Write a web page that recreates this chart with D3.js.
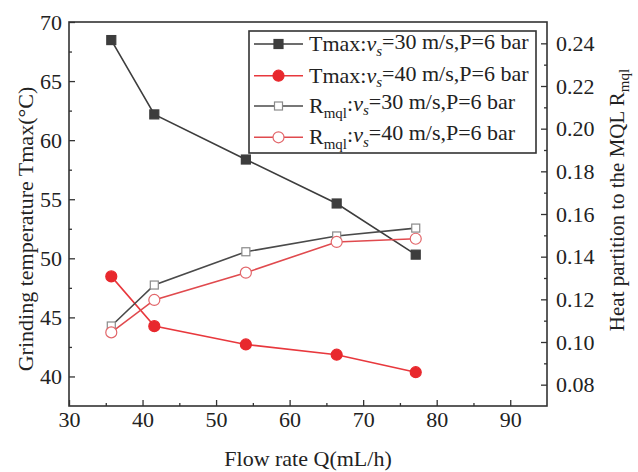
<!DOCTYPE html>
<html>
<head>
<meta charset="utf-8">
<script src="https://cdn.jsdelivr.net/npm/d3@7"></script>
<style>
  body { margin: 0; background: #fff; }
  svg { display: block; font-family: "Liberation Serif", "Times New Roman", serif; }
</style>
</head>
<body>
<div id="chart"></div>
<script>
// values
const flowRate = [35.75, 41.6, 54.05, 66.4, 77.15];
const tmax30 = [68.47, 62.18, 58.36, 54.64, 50.31];
const tmax40 = [48.47, 44.26, 42.71, 41.84, 40.36];
const rmql30 = [0.1075, 0.1267, 0.1423, 0.1497, 0.1534];
const rmql40 = [0.1045, 0.1197, 0.1325, 0.1469, 0.1484];

const xTicks = [30, 40, 50, 60, 70, 80, 90];
const leftTicks = [40, 45, 50, 55, 60, 65, 70];
const rightTicks = [0.08, 0.10, 0.12, 0.14, 0.16, 0.18, 0.20, 0.22, 0.24];

const W = 638, H = 472;
const margin = { top: 22, right: 91, bottom: 66, left: 69 };
const width = W - margin.left - margin.right;
const height = H - margin.top - margin.bottom;
const axisColor = '#333';
const fontSize = 22;

const svg = d3.select('#chart')
  .append('svg')
  .attr('width', W)
  .attr('height', H);

const g = svg.append('g')
  .attr('transform', `translate(${margin.left},${margin.top})`);

const x = d3.scaleLinear().domain([30, 95]).range([0, width]);
const yL = d3.scaleLinear().domain([37.5, 70]).range([height, 0]);
const yR = d3.scaleLinear().domain([0.07, 0.25]).range([height, 0]);

// minor ticks first, then major ticks with labels
function styleAxis(sel) {
  sel.select('.domain').remove();
  sel.selectAll('line').attr('stroke', axisColor).attr('stroke-width', 1.3);
  sel.selectAll('text')
    .attr('fill', '#222')
    .style('font-size', fontSize + 'px')
    .style('font-family', '"Liberation Serif", serif');
}

const xMinor = d3.range(35, 95, 10);
g.append('g').attr('transform', `translate(0,${height})`)
  .call(d3.axisBottom(x).tickValues(xMinor).tickSize(-3).tickFormat(''))
  .call(styleAxis);
g.append('g').attr('transform', `translate(0,${height})`)
  .call(d3.axisBottom(x).tickValues(xTicks).tickSize(-6).tickPadding(5).tickFormat(d3.format('d')))
  .call(styleAxis);

const leftMinor = d3.range(42.5, 70, 5);
g.append('g')
  .call(d3.axisLeft(yL).tickValues(leftMinor).tickSize(-3).tickFormat(''))
  .call(styleAxis);
g.append('g')
  .call(d3.axisLeft(yL).tickValues(leftTicks).tickSize(-6).tickPadding(7).tickFormat(d3.format('d')))
  .call(styleAxis);

const rightMinor = d3.range(0.09, 0.25, 0.02);
g.append('g').attr('transform', `translate(${width},0)`)
  .call(d3.axisRight(yR).tickValues(rightMinor).tickSize(-3).tickFormat(''))
  .call(styleAxis);
g.append('g').attr('transform', `translate(${width},0)`)
  .call(d3.axisRight(yR).tickValues(rightTicks).tickSize(-6).tickPadding(9).tickFormat(d3.format('.2f')))
  .call(styleAxis);

// frame
g.append('rect')
  .attr('width', width)
  .attr('height', height)
  .attr('fill', 'none')
  .attr('stroke', axisColor)
  .attr('stroke-width', 1.6);

const series = [
  { values: tmax30, y: yL, line: '#3d3d3d', shape: 'square', fill: '#3d3d3d', stroke: '#3d3d3d', size: 9 },
  { values: tmax40, y: yL, line: '#e8383d', shape: 'circle', fill: '#e8282d', stroke: '#e8282d', size: 5.5 },
  { values: rmql30, y: yR, line: '#4a4a4a', shape: 'square', fill: '#fff', stroke: '#8a8a8a', size: 8 },
  { values: rmql40, y: yR, line: '#e04a4e', shape: 'circle', fill: '#fff', stroke: '#e2666a', size: 5.5 }
];

function drawMarker(sel, s) {
  if (s.shape === 'square') {
    sel.append('rect')
      .attr('x', -s.size / 2).attr('y', -s.size / 2)
      .attr('width', s.size).attr('height', s.size)
      .attr('fill', s.fill).attr('stroke', s.stroke).attr('stroke-width', 1.2);
  } else {
    sel.append('circle')
      .attr('r', s.size)
      .attr('fill', s.fill).attr('stroke', s.stroke).attr('stroke-width', 1.2);
  }
}

series.forEach(s => {
  const pts = flowRate.map((q, i) => [q, s.values[i]]);
  g.append('path')
    .datum(pts)
    .attr('fill', 'none')
    .attr('stroke', s.line)
    .attr('stroke-width', 1.6)
    .attr('d', d3.line().x(d => x(d[0])).y(d => s.y(d[1])));
});

series.forEach(s => {
  flowRate.forEach((q, i) => {
    const m = g.append('g').attr('transform', `translate(${x(q)},${s.y(s.values[i])})`);
    drawMarker(m, s);
  });
});

// axis titles
svg.append('text')
  .attr('x', margin.left + width / 2)
  .attr('y', 466)
  .attr('text-anchor', 'middle')
  .style('font-size', '22px')
  .attr('fill', '#222')
  .text('Flow rate Q(mL/h)');

svg.append('text')
  .attr('transform', 'translate(33,229) rotate(-90)')
  .attr('text-anchor', 'middle')
  .style('font-size', '22px')
  .attr('fill', '#222')
  .text('Grinding temperature Tmax(°C)');

const rTitle = svg.append('text')
  .attr('transform', 'translate(624,200) rotate(-90)')
  .attr('text-anchor', 'middle')
  .style('font-size', '21px')
  .attr('fill', '#222');
rTitle.append('tspan').text('Heat partition to the MQL R');
rTitle.append('tspan').attr('dy', '0.3em').style('font-size', '15px').text('mql');

// legend
const legendLabels = [
  { pre: 'Tmax:', sub: null, speed: '30' },
  { pre: 'Tmax:', sub: null, speed: '40' },
  { pre: 'R', sub: 'mql', speed: '30' },
  { pre: 'R', sub: 'mql', speed: '40' }
];

const legend = svg.append('g').attr('transform', 'translate(249,31)');
legend.append('rect')
  .attr('width', 287)
  .attr('height', 122)
  .attr('fill', '#fff')
  .attr('stroke', axisColor)
  .attr('stroke-width', 1.6);

const rowY = [13, 44.7, 75, 106.3];
series.forEach((s, i) => {
  const row = legend.append('g').attr('transform', `translate(0,${rowY[i]})`);
  row.append('line')
    .attr('x1', 5).attr('x2', 54)
    .attr('stroke', s.line).attr('stroke-width', 1.6);
  const m = row.append('g').attr('transform', 'translate(29.5,0)');
  drawMarker(m, s);

  const lab = legendLabels[i];
  const t = row.append('text')
    .attr('x', 60)
    .attr('y', 7)
    .style('font-size', '22px')
    .attr('fill', '#222');
  t.append('tspan').text(lab.pre);
  if (lab.sub) {
    t.append('tspan').attr('dy', '0.3em').style('font-size', '15px').text(lab.sub);
    t.append('tspan').attr('dy', '-0.3em').text(':');
  }
  t.append('tspan').style('font-style', 'italic').text('v');
  t.append('tspan').attr('dy', '0.3em').style('font-style', 'italic').style('font-size', '15px').text('s');
  t.append('tspan').attr('dy', '-0.3em').text(`=${lab.speed} m/s,P=6 bar`);
});
</script>
</body>
</html>
